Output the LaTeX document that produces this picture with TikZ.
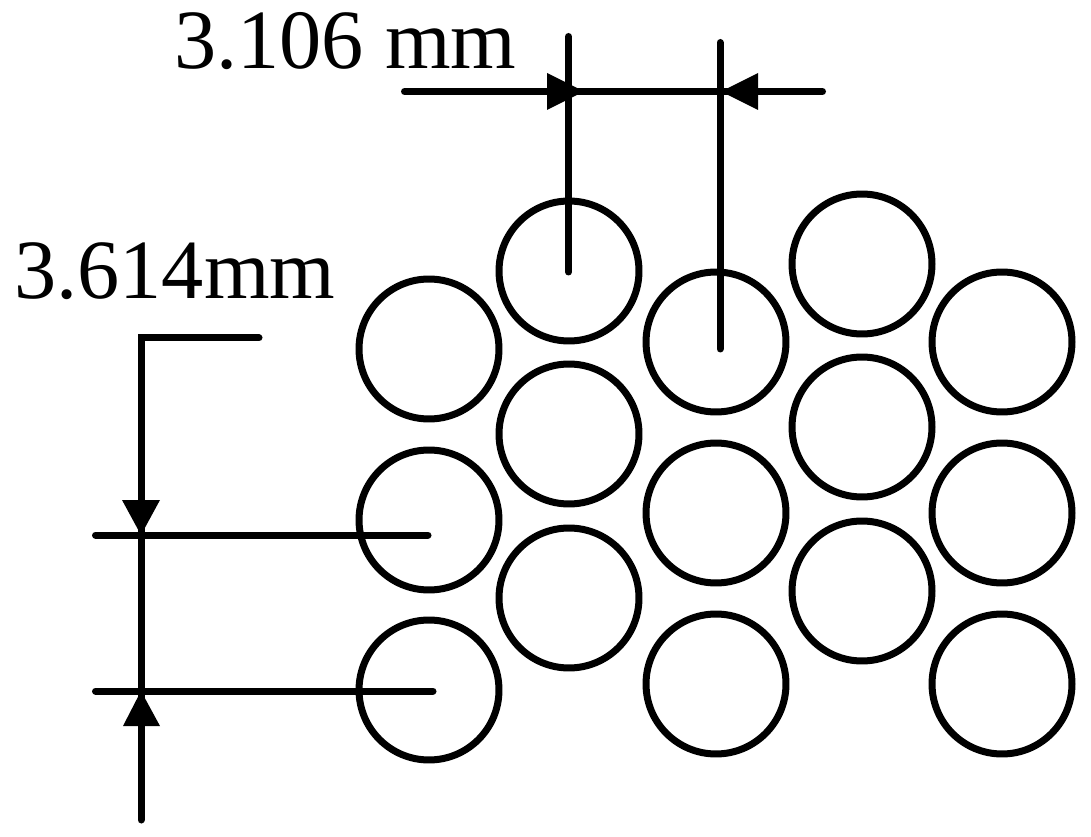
\documentclass[tikz,border=0pt]{standalone}
\usepackage{fontspec}
\setmainfont{Liberation Serif}
\begin{document}
\begin{tikzpicture}[x=0.02cm,y=-0.02cm,
  wire/.style={circle,draw=black,line width=0.14cm,minimum size=2.8cm,inner sep=0pt},
  dim/.style={line width=0.14cm,draw=black,line cap=round},
  tip/.style={fill=black,draw=none},
  lab/.style={font=\fontsize{48}{48}\selectfont,inner sep=0pt,anchor=base west}]
\useasboundingbox (0,0) rectangle (1091,837);
\foreach \n/\x/\y in {a/429/349,b/429/520,c/429/690,d/569/271,e/569/434,f/569/598,g/716/342,h/716/513,i/716/684,j/862/264,k/862/427,l/862/591,m/1002/342,n/1002/513,o/1002/684}
  \node[wire] (\n) at (\x,\y) {};
\coordinate (t1) at (568.5,36.5); \coordinate (t2) at (568.5,272);
\coordinate (u1) at (720,42.5); \coordinate (u2) at (720,349);
\coordinate (h1) at (404.5,91.5); \coordinate (h2) at (822.5,91.5);
\coordinate (v1) at (259,338); \coordinate (v2) at (141,338); \coordinate (v3) at (141,820);
\coordinate (p1) at (95.5,535); \coordinate (p2) at (428,535);
\coordinate (q1) at (95.5,691); \coordinate (q2) at (433,691);
\draw[dim] (t1) -- (t2);
\draw[dim] (u1) -- (u2);
\draw[dim] (h1) -- (h2);
\draw[dim,line join=miter] (v1) -- (v2) -- (v3);
\draw[dim] (p1) -- (p2);
\draw[dim] (q1) -- (q2);
\fill[tip] (584,91.5) -- (547,73) -- (547,110) -- cycle;
\fill[tip] (721,91.5) -- (758,73) -- (758,110) -- cycle;
\fill[tip] (141,535) -- (122,500) -- (160,500) -- cycle;
\fill[tip] (141,691) -- (123,726) -- (160,726) -- cycle;
\node[lab] (top) at (174,69) {3.106 mm};
\node[lab] (left) at (14,299) {3.614mm};
\end{tikzpicture}
\end{document}
